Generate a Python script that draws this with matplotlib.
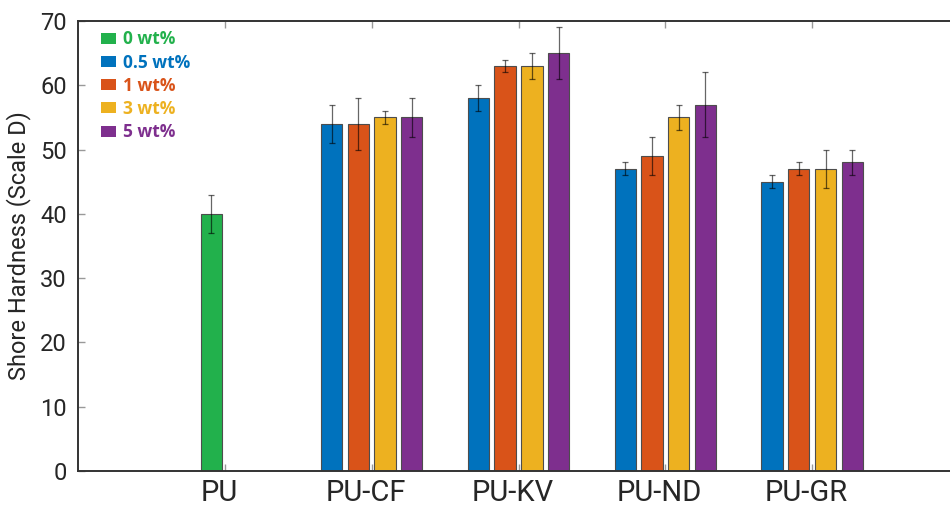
import numpy as np
import matplotlib
matplotlib.use('Agg')
import matplotlib.pyplot as plt
import matplotlib.transforms as mtrans
from matplotlib.patches import Patch

# data
categories = ['PU', 'PU-CF', 'PU-KV', 'PU-ND', 'PU-GR']
series_labels = ['0 wt%', '0.5 wt%', '1 wt%', '3 wt%', '5 wt%']
hard_0wt = [40, 0, 0, 0, 0]
err_0wt = [3, 0, 0, 0, 0]
hard_05wt = [0, 54, 58, 47, 45]
err_05wt = [0, 3, 2, 1, 1]
hard_1wt = [0, 54, 63, 49, 47]
err_1wt = [0, 4, 1, 3, 1]
hard_3wt = [0, 55, 63, 55, 47]
err_3wt = [0, 1, 2, 2, 3]
hard_5wt = [0, 55, 65, 57, 48]
err_5wt = [0, 3, 4, 5, 2]

colours = ['#22b14c', '#0072bd', '#d95319', '#edb120', '#7e2f8e']
# slot of each series inside a group (0 wt% sits in the second slot)
slots = [1, 0, 1, 2, 3]
values = [hard_0wt, hard_05wt, hard_1wt, hard_3wt, hard_5wt]
errors = [err_0wt, err_05wt, err_1wt, err_3wt, err_5wt]

txt_col = '#262626'
plt.rcParams['font.family'] = ['Roboto', 'DejaVu Sans']

fig = plt.figure(figsize=(9.5, 5.09), dpi=100)
ax = fig.add_axes([78/950, 38/509, 881/950, 450/509])

x = np.arange(1, len(categories) + 1)
step = 0.182
width = 0.145

for vals, errs, col, slot in zip(values, errors, colours, slots):
    vals = np.array(vals, dtype=float)
    errs = np.array(errs, dtype=float)
    pos = x + (slot - 1.5) * step
    ax.bar(pos, vals, width=width, color=col, edgecolor='#4d4d4d',
           linewidth=0.8, zorder=2)
    mask = vals > 0
    ax.errorbar(pos[mask], vals[mask], yerr=errs[mask], fmt='none',
                ecolor='black', elinewidth=0.9, capsize=2.2,
                capthick=0.9, alpha=0.6, zorder=3)

ax.set_xlim(0, 6)
ax.set_ylim(0, 70)
ax.set_xticks(x)
ax.set_xticklabels(categories, fontsize=21, color=txt_col)
ax.set_yticks(np.arange(0, 71, 10))
ax.tick_params(axis='y', labelsize=17, labelcolor=txt_col, pad=8)
ax.tick_params(axis='x', pad=6)
ax.tick_params(direction='in', length=5, width=1, color='#999999',
               top=True, right=True)

# shift category labels a touch to the left as in the original
offset = mtrans.ScaledTranslation(-0.06, 0, fig.dpi_scale_trans)
for lbl in ax.get_xticklabels():
    lbl.set_transform(lbl.get_transform() + offset)

for sp in ax.spines.values():
    sp.set_color('#333333')
    sp.set_linewidth(1.4)

ax.set_ylabel('Shore Hardness (Scale D)', fontsize=17, color=txt_col)
ax.yaxis.set_label_coords(-0.053, 0.5)

# legend
handles = [Patch(facecolor=c, edgecolor='none', label=l)
           for c, l in zip(colours, series_labels)]
leg = ax.legend(handles=handles, loc='upper left',
                bbox_to_anchor=(0.026, 0.979), frameon=False,
                borderpad=0, borderaxespad=0, handlelength=0.85,
                handleheight=0.6, handletextpad=0.4, labelspacing=0.3,
                prop={'family': ['Open Sans', 'DejaVu Sans'],
                      'weight': 'bold', 'size': 12.5})
for text, c in zip(leg.get_texts(), colours):
    text.set_color(c)

fig.savefig('out.png', dpi=100)
